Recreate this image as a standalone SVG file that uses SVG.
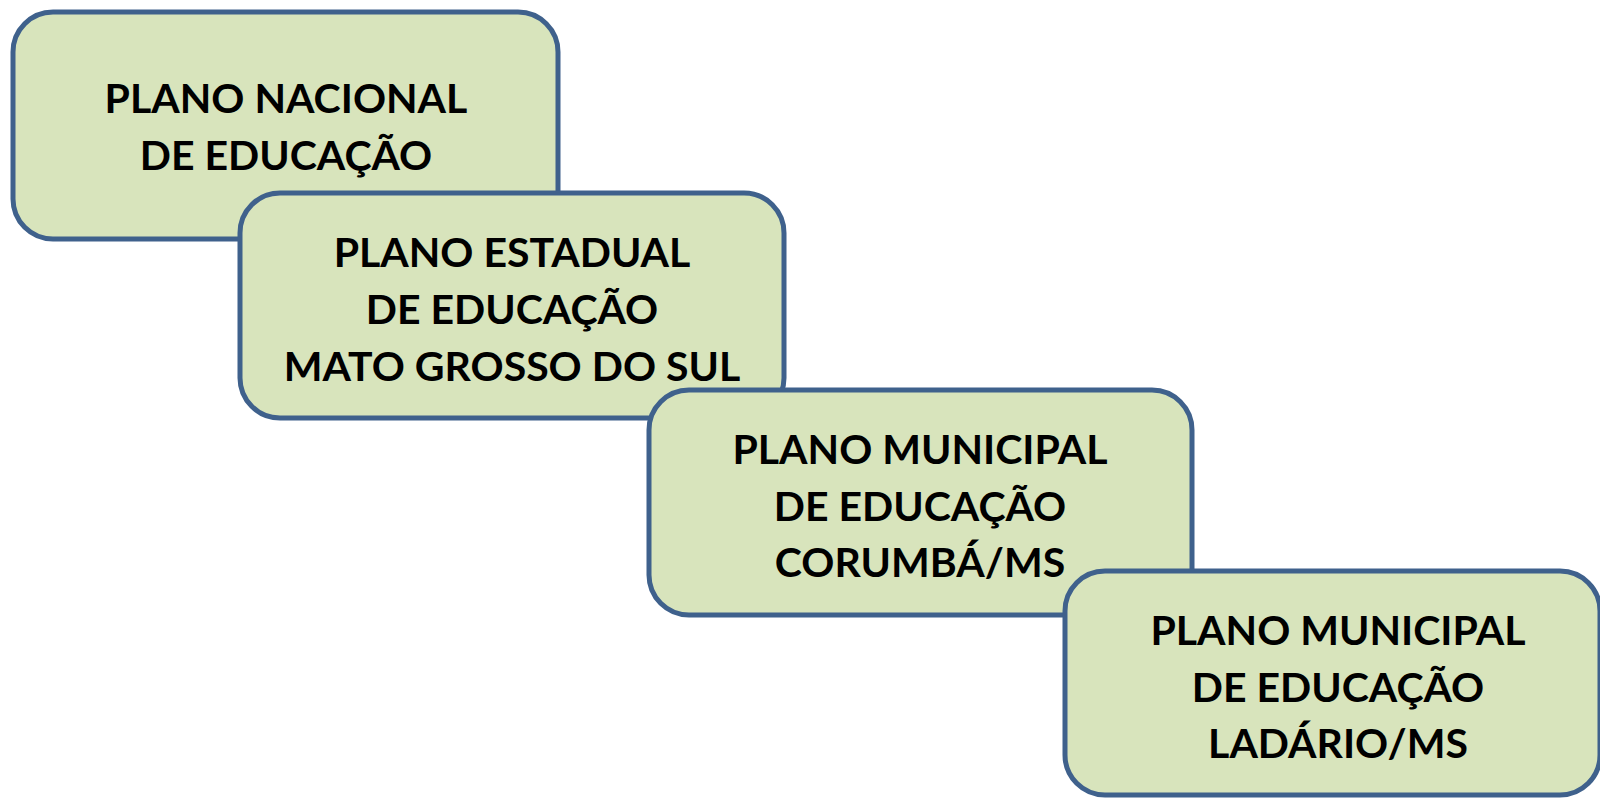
<svg xmlns="http://www.w3.org/2000/svg" width="1600" height="798" viewBox="0 0 1600 798">
<style>
.box{fill:#d8e4bc;stroke:#3f618c;stroke-width:5}
.t{font-family:Lato,"Open Sans","Liberation Sans",sans-serif;font-weight:700;font-size:41px;fill:#000;text-anchor:middle}
</style>
<rect width="1600" height="798" fill="#fff"/>
<g id="connectors"></g>
<g id="n1">
<rect class="box" x="13" y="12" width="545" height="227" rx="40"/>
<text class="t" x="286" y="113">PLANO NACIONAL</text>
<text class="t" x="286" y="170">DE EDUCAÇÃO</text>
</g>
<g id="n2">
<rect class="box" x="240" y="193" width="544" height="225" rx="40"/>
<text class="t" x="512" y="267">PLANO ESTADUAL</text>
<text class="t" x="512" y="324">DE EDUCAÇÃO</text>
<text class="t" x="512" y="381">MATO GROSSO DO SUL</text>
</g>
<g id="n3">
<rect class="box" x="649" y="390" width="543" height="225" rx="40"/>
<text class="t" x="920" y="464">PLANO MUNICIPAL</text>
<text class="t" x="920" y="521">DE EDUCAÇÃO</text>
<text class="t" x="920" y="577">CORUMBÁ/MS</text>
</g>
<g id="n4">
<rect class="box" x="1065" y="571" width="535" height="224" rx="40"/>
<text class="t" x="1338" y="645">PLANO MUNICIPAL</text>
<text class="t" x="1338" y="702">DE EDUCAÇÃO</text>
<text class="t" x="1338" y="758">LADÁRIO/MS</text>
</g>
</svg>
